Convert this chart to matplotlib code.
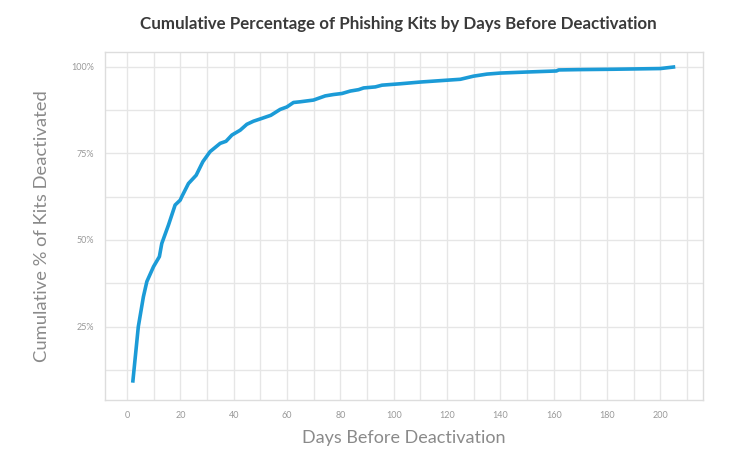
import numpy as np
import matplotlib.pyplot as plt
from matplotlib.ticker import MultipleLocator, FuncFormatter

# Days before deactivation vs cumulative % of kits deactivated
days = [2.1, 4.2, 6.1, 7.4, 9.9, 12.1, 13.0, 15.5, 18.0, 19.9, 20.5, 23.0, 25.9,
        28.4, 31.1, 34.9, 37.1, 39.3, 42.4, 44.9, 47.4, 50.5, 53.9, 57.4, 59.9,
        62.4, 64.9, 69.9, 74.3, 77.4, 80.6, 83.7, 86.8, 88.7, 93.1, 95.6, 102.4,
        109.9, 117.4, 125.0, 129.9, 135.0, 140.0, 150.0, 161.0, 161.9, 170.0,
        182.4, 200.0, 205.6]
pct = [8.8, 25.0, 33.6, 38.0, 42.3, 45.2, 49.0, 54.3, 60.1, 61.5, 62.5, 66.3, 68.7,
       72.6, 75.5, 77.9, 78.5, 80.3, 81.7, 83.4, 84.3, 85.1, 86.0, 87.7, 88.4,
       89.7, 89.9, 90.4, 91.6, 92.0, 92.3, 93.0, 93.4, 93.9, 94.2, 94.7, 95.1,
       95.6, 96.0, 96.4, 97.3, 97.9, 98.2, 98.5, 98.8, 99.1, 99.2,
       99.3, 99.5, 100.0]

plt.rcParams['font.family'] = ['Lato', 'DejaVu Sans']

fig = plt.figure(figsize=(7.41, 4.51), dpi=100)
ax = fig.add_axes([0.1417, 0.1131, 0.807, 0.771])

ax.plot(days, pct, color='#1b9bd7', linewidth=2.6, solid_capstyle='butt')

ax.set_xlim(-8.3, 216)
ax.set_ylim(3.8, 104.2)

ax.xaxis.set_major_locator(MultipleLocator(20))
ax.xaxis.set_minor_locator(MultipleLocator(10))
ax.yaxis.set_major_locator(MultipleLocator(25))
ax.yaxis.set_minor_locator(MultipleLocator(12.5))
ax.yaxis.set_major_formatter(FuncFormatter(lambda v, p: f'{v:.0f}%'))

ax.grid(which='both', color='#e6e6e6', linewidth=1.0)
ax.set_axisbelow(True)
ax.tick_params(which='both', length=0, labelsize=6.5, labelcolor='#999999', pad=8)

for s in ax.spines.values():
    s.set_color('#dddddd')
    s.set_linewidth(1.0)

ax.set_xlabel('Days Before Deactivation', fontsize=13, color='#8a8a8a', labelpad=7)
ax.set_ylabel('Cumulative % of Kits Deactivated', fontsize=13.2, color='#8a8a8a', labelpad=15)
fig.text(0.537, 0.947, 'Cumulative Percentage of Phishing Kits by Days Before Deactivation',
         ha='center', va='center', fontsize=12.2, fontweight='bold', color='#3a3a3a')

fig.savefig('out.png', dpi=100)
